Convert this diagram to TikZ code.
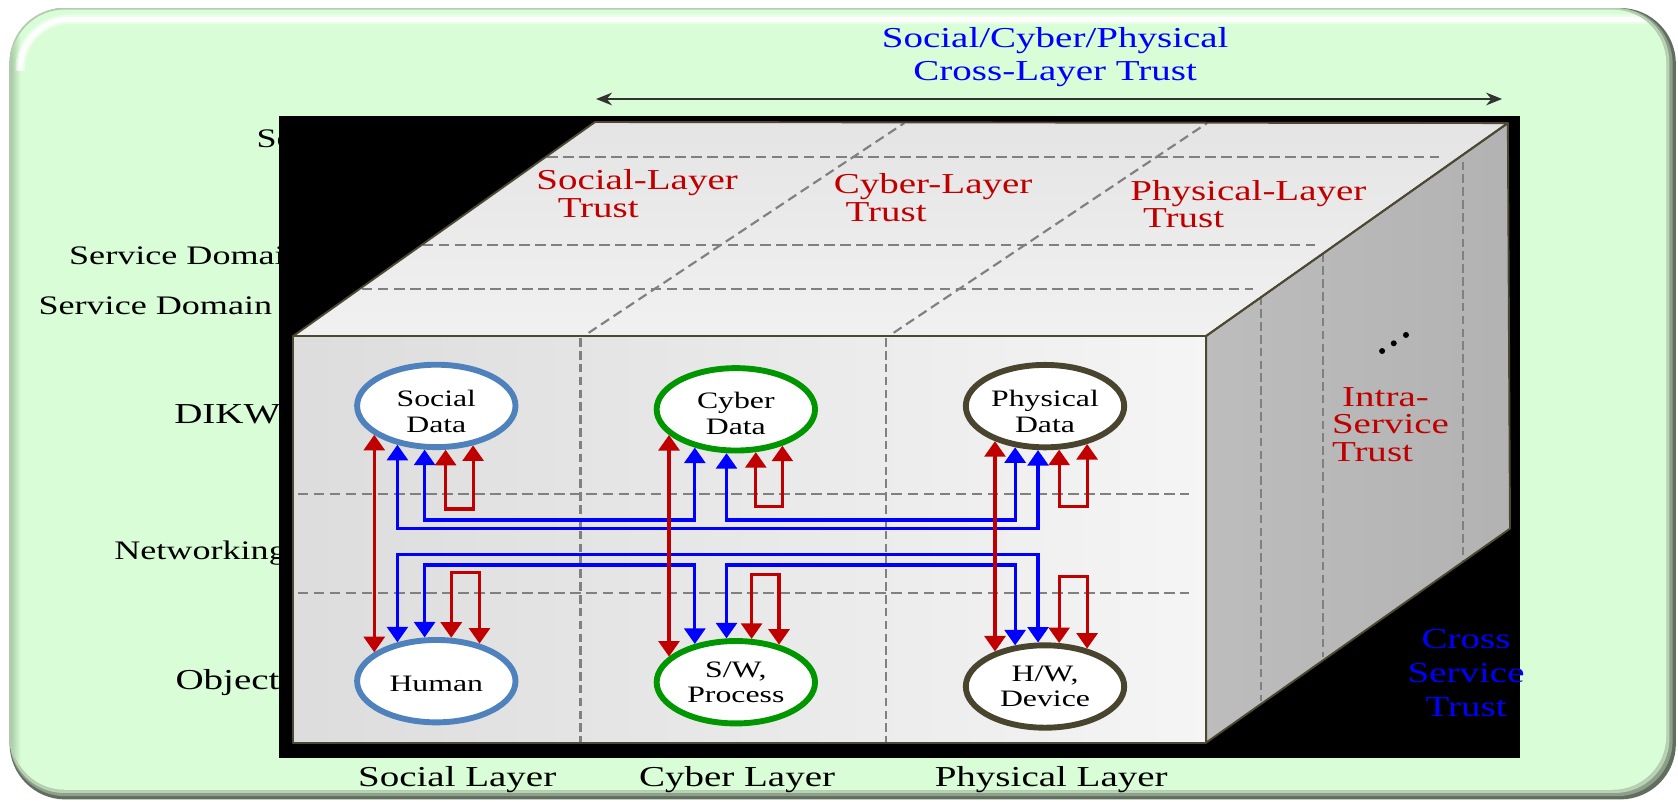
\documentclass[tikz,border=0pt]{standalone}
\usepackage{fontspec}
\setmainfont{Liberation Serif}[FakeStretch=1.35]
\usetikzlibrary{arrows.meta,shapes.geometric}

\definecolor{panelgreen}{RGB}{217,253,214}
\definecolor{paneldark}{RGB}{95,110,93}
\definecolor{panelmid}{RGB}{140,160,137}
\definecolor{panellight}{RGB}{185,210,182}
\definecolor{panelrim}{RGB}{180,205,177}
\definecolor{paneltint}{RGB}{170,205,167}
\definecolor{boxedge}{RGB}{77,72,50}
\definecolor{dashgray}{RGB}{128,128,128}
\definecolor{trustred}{RGB}{192,0,0}
\definecolor{trustblue}{RGB}{0,0,255}
\definecolor{socialblue}{RGB}{79,129,189}
\definecolor{cybergreen}{RGB}{0,150,0}
\definecolor{physbrown}{RGB}{73,68,45}

% stacked lines whose base is the baseline of the first line
\newcommand{\stk}[2][l]{\begin{tabular}[t]{@{}#1@{}}#2\end{tabular}}

\begin{document}
\begin{tikzpicture}[x=1pt,y=-1pt,
  lbl/.style={inner sep=0pt, anchor=base west, font=\fontsize{27}{31}\selectfont},
  domlbl/.style={inner sep=0pt, anchor=base west, font=\fontsize{25}{29}\selectfont},
  redlbl/.style={inner sep=0pt, anchor=base west, text=trustred, font=\fontsize{27}{26}\selectfont},
  bluelbl/.style={inner sep=0pt, anchor=base, text=trustblue},
  entity/.style={ellipse, draw, fill=white, line width=5.5pt, minimum width=148pt,
    minimum height=77pt, inner sep=0pt, align=center, font=\fontsize{22}{24}\selectfont},
  hdash/.style={dashgray, line width=1.9pt, dash pattern=on 10pt off 5pt},
  vdash/.style={dashgray, line width=2pt, dash pattern=on 8pt off 4pt},
  sdash/.style={dashgray, line width=2pt, dash pattern=on 9pt off 5pt},
  face/.style={draw=boxedge, line width=1.8pt, line join=round},
  flow/.style={line width=3pt, line join=miter,
    {Triangle[width=19.5pt,length=14.5pt]}-{Triangle[width=19.5pt,length=14.5pt]}},
  redflow/.style={flow, trustred},
  blueflow/.style={flow, trustblue},
]
\useasboundingbox (0,0) rectangle (1568,749);
\fill[white] (0,0) rectangle (1568,749);

% ---- bevelled green panel ----
\fill[paneldark, rounded corners=52pt] (9,7.5) rectangle (1566,747);
\fill[panelmid, rounded corners=52pt] (9,7.5) rectangle (1563,744);
\fill[panellight, rounded corners=51pt] (9,7.5) rectangle (1560,741);
\fill[panelrim, rounded corners=51pt] (9,7.5) rectangle (1558,739);
\begin{scope}
  \clip[rounded corners=50pt] (10.5,9) rectangle (1557,738);
  \fill[panelgreen] (0,0) rectangle (1568,749);
  \shade[left color=paneltint, right color=panelgreen] (10.5,0) rectangle (19,749);
  \draw[white, line width=9pt, opacity=0.45, rounded corners=46pt] (19,66) -- (19,18) -- (1545,18);
  \draw[white, line width=5pt, opacity=0.85, rounded corners=46pt] (19,66) -- (19,18) -- (1545,18);
\end{scope}

% ---- row labels (partly hidden behind the backdrop) ----
\node[domlbl] (dom3) at (239.6,138) {Service Domain};
\node[domlbl] (dom2) at (64.4,247.6) {Service Domain};
\node[domlbl] (dom1) at (35.8,294.3) {Service Domain};
\node[lbl] (dikw) at (162.7,396) {DIKW};
\node[domlbl] (netw) at (106.6,522.4) {Networking};
\node[lbl] (obj) at (163.8,644) {Object};

% ---- black backdrop ----
\fill[black] (261,108) rectangle (1420,708);

% ---- box faces ----
\shade[top color=gray!21, bottom color=gray!11] (274,314) -- (556,114) -- (1409,115) -- (1127,314) -- cycle;
\shade[left color=gray!27, right color=gray!8] (274,314) rectangle (1127,694);
\shade[left color=gray!52, right color=gray!60] (1127,314) -- (1409,115) -- (1411,494) -- (1127,694) -- cycle;

% front face grid
\draw[hdash] (278,462) -- (1111,462);
\draw[hdash] (278,554) -- (1111,554);
\draw[vdash] (542.5,316) -- (542.5,693);
\draw[vdash] (828,316) -- (828,693);
% top face grid
\draw[hdash] (511,147) -- (1345,147);
\draw[hdash] (395,229) -- (1229,229);
\draw[hdash] (338,270) -- (1171,270);
\draw[sdash] (550,311) -- (845,115);
\draw[sdash] (835,311) -- (1128,115);
% side face grid
\draw[vdash] (1367,151) -- (1367,525);
\draw[vdash] (1236,237) -- (1236,614);
\draw[vdash] (1178,277) -- (1178,655);

% box outlines
\draw[face] (274,314) -- (556,114) -- (1409,115) -- (1127,314) -- cycle;
\draw[face] (274,314) rectangle (1127,694);
\draw[face] (1127,314) -- (1409,115) -- (1411,494) -- (1127,694) -- cycle;

% ---- layer trust labels ----
\node[redlbl] (slt) at (501,177) {\stk{Social-Layer\\\hspace*{20pt}Trust}};
\node[redlbl] (clt) at (779,180.7) {\stk{Cyber-Layer\\\hspace*{11pt}Trust}};
\node[redlbl] (plt) at (1056,187) {\stk{Physical-Layer\\\hspace*{12pt}Trust}};
\node[redlbl] (ist) at (1244.5,379.4) {\stk{\hspace*{9.5pt}Intra-\\Service\\Trust}};
\fill (1291.5,328) circle (2.8pt) (1302.4,320.8) circle (2.8pt) (1313.8,313) circle (2.8pt);

\node[bluelbl, font=\fontsize{27}{31}\selectfont] (cross) at (986,44.5)
  {\stk[c]{Social/Cyber/Physical\\Cross-Layer Trust}};
\node[bluelbl, font=\fontsize{27}{32}\selectfont] (cst) at (1370,605.8)
  {\stk[c]{Cross\\Service\\Trust}};

\coordinate (spanL) at (557,92.5);
\coordinate (spanR) at (1403.6,92.5);
\draw[line width=1.2pt, black!80, {Stealth[length=15pt,width=12pt,inset=5pt]}-{Stealth[length=15pt,width=12pt,inset=5pt]}] (spanL) -- (spanR);

% ---- layer names ----
\node[lbl] (soc) at (334.4,735) {Social Layer};
\node[lbl] (cyb) at (597,735) {Cyber Layer};
\node[lbl] (phy) at (873.3,735) {Physical Layer};

% ---- entities ----
\node[entity, draw=socialblue] (sd) at (407.7,379.3) {\rule{0pt}{25pt}Social\\Data};
\node[entity, draw=socialblue] (hu) at (407.7,636.5) {\rule{0pt}{19pt}Human};
\node[entity, draw=cybergreen] (cd) at (687.6,382.5) {\rule{0pt}{23pt}Cyber\\Data};
\node[entity, draw=cybergreen] (sw) at (687.6,637.5) {S/W,\\Process};
\node[entity, draw=physbrown] (pd) at (976.5,379.5) {\rule{0pt}{25pt}Physical\\Data};
\node[entity, draw=physbrown] (hw) at (976.5,641.5) {H/W,\\Device};

% ---- routing levels ----
\coordinate (laneA) at (0,486);
\coordinate (laneB) at (0,494);
\coordinate (laneC) at (0,518);
\coordinate (laneD) at (0,528);
\coordinate (loopS1) at (0,475.6);
\coordinate (loopC1) at (0,473.5);
\coordinate (loopP1) at (0,473.5);
\coordinate (loopS2) at (0,535);
\coordinate (loopC2) at (0,537);
\coordinate (loopP2) at (0,539);

% cross-layer links (blue)
\draw[blueflow] (sd.255) -- (sd.255 |- laneA) -- (cd.223 |- laneA) -- (cd.223);
\draw[blueflow] (sd.225) -- (sd.225 |- laneB) -- (pd.261 |- laneB) -- (pd.261);
\draw[blueflow] (cd.258) -- (cd.258 |- laneA) -- (pd.234 |- laneA) -- (pd.234);
\draw[blueflow] (hu.135) -- (hu.135 |- laneC) -- (hw.99 |- laneC) -- (hw.99);
\draw[blueflow] (hu.105) -- (hu.105 |- laneD) -- (sw.137 |- laneD) -- (sw.137);
\draw[blueflow] (sw.102) -- (sw.102 |- laneD) -- (hw.126 |- laneD) -- (hw.126);

% intra-layer links (red)
\draw[redflow] (sd.205) -- (hu.155);
\draw[redflow] (cd.201) -- (sw.159);
\draw[redflow] (pd.215) -- (hw.145);
\draw[redflow] (sd.282) -- (sd.282 |- loopS1) -- (sd.313 |- loopS1) -- (sd.313);
\draw[redflow] (hu.71) -- (hu.71 |- loopS2) -- (hu.41 |- loopS2) -- (hu.41);
\draw[redflow] (cd.295) -- (cd.295 |- loopC1) -- (cd.322 |- loopC1) -- (cd.322);
\draw[redflow] (sw.70) -- (sw.70 |- loopC2) -- (sw.41 |- loopC2) -- (sw.41);
\draw[redflow] (pd.288) -- (pd.288 |- loopP1) -- (pd.318 |- loopP1) -- (pd.318);
\draw[redflow] (hw.72) -- (hw.72 |- loopP2) -- (hw.42 |- loopP2) -- (hw.42);
\end{tikzpicture}
\end{document}
